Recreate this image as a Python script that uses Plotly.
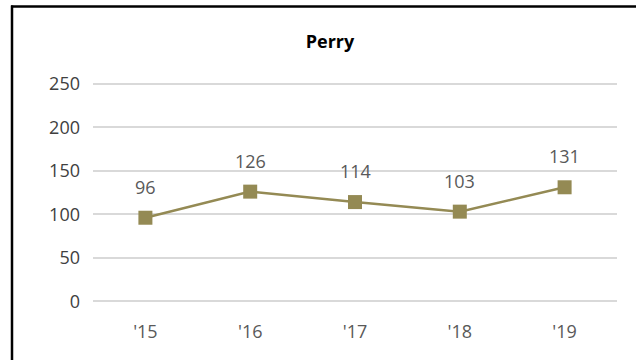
import plotly.graph_objects as go

categories = ["'15", "'16", "'17", "'18", "'19"]
values = [96, 126, 114, 103, 131]
y_ticks = [0, 50, 100, 150, 200, 250]

color = "#948A54"
gray = "#595959"
font_family = "Open Sans, Noto Sans, sans-serif"

fig = go.Figure()
fig.add_trace(go.Scatter(
    x=categories, y=values, mode="lines+markers",
    line=dict(color=color, width=2.5),
    marker=dict(symbol="square", size=14, color=color),
    hoverinfo="skip", showlegend=False,
))

for c, v in zip(categories, values):
    fig.add_annotation(x=c, y=v, text=str(v), showarrow=False, yshift=31,
                       font=dict(size=18, color=gray, family=font_family))

# y range padded slightly so gridlines at 0 and 250 are drawn
ymin, ymax = -2, 252
L, R = 93, 19
px_per_unit = (301 - 84) / 250
T = 84 - (ymax - 250) * px_per_unit
B = 360 - (301 + (0 - ymin) * px_per_unit)
W = 636 - L - R
H = 360 - T - B

def px_x(p):
    return (p - L) / W

def px_y(p):
    return (360 - B - p) / H

fig.add_shape(type="line", xref="paper", yref="paper",
              x0=px_x(12), x1=px_x(12), y0=px_y(360), y1=px_y(6),
              line=dict(color="black", width=2.5))
fig.add_shape(type="line", xref="paper", yref="paper",
              x0=px_x(11), x1=px_x(636), y0=px_y(7), y1=px_y(7),
              line=dict(color="black", width=2.5))

fig.update_layout(
    width=636, height=360,
    margin=dict(l=L, r=R, t=T, b=B),
    paper_bgcolor="white", plot_bgcolor="white",
    title=dict(text="<b>Perry</b>", x=330/636, xref="container", xanchor="center",
               y=1 - 42/360, yref="container", yanchor="middle",
               font=dict(size=18, color="black", family=font_family)),
    font=dict(family=font_family, color=gray),
    xaxis=dict(type="category", range=[-0.5, 4.5], showgrid=False, zeroline=False,
               showline=False, ticks="", tickfont=dict(size=18, color=gray),
               ticklabelstandoff=16),
    yaxis=dict(range=[ymin, ymax], tickvals=y_ticks, showgrid=True, gridcolor="#D9D9D9",
               gridwidth=1.5, zeroline=False, showline=False, ticks="",
               tickfont=dict(size=18, color="#404040"), ticklabelstandoff=12),
)

fig.write_html("out.html", config={"displayModeBar": False},
               post_script="document.body.style.margin='0px';document.body.style.padding='0px';"
                           "document.documentElement.style.overflow='hidden';document.body.style.overflow='hidden';")
